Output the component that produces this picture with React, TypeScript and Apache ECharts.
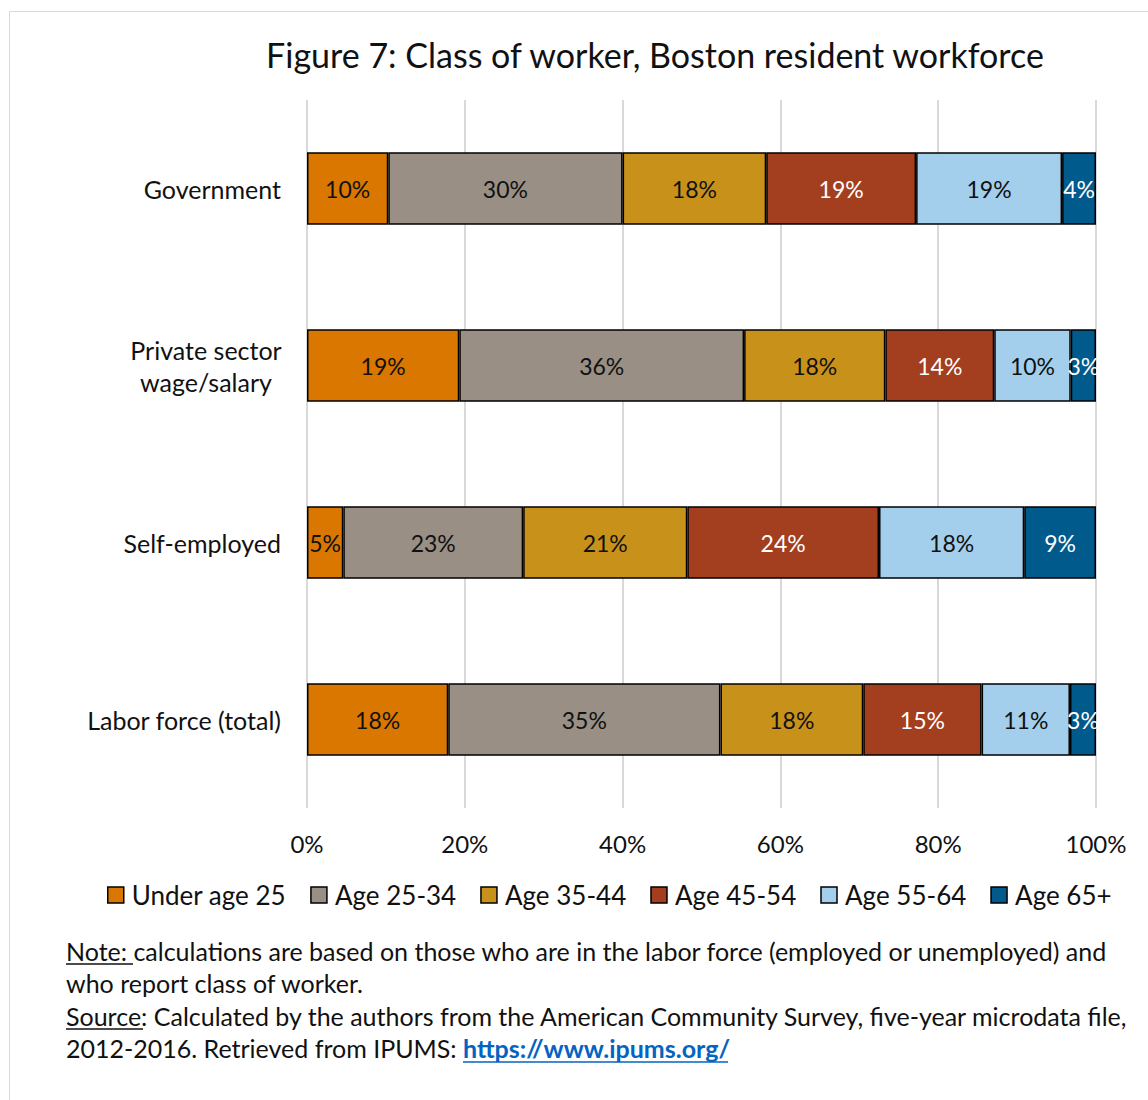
import React, { useEffect, useRef } from "react";
import * as echarts from "echarts";

const categories = ["Government", "Private sector\nwage/salary", "Self-employed", "Labor force (total)"];
const seriesNames = ["Under age 25", "Age 25-34", "Age 35-44", "Age 45-54", "Age 55-64", "Age 65+"];
const under25 = [10.3, 19.3, 4.6, 17.9];
const age2534 = [29.7, 36.1, 22.8, 34.5];
const age3544 = [18.2, 17.9, 20.8, 18.1];
const age4554 = [19.0, 13.8, 24.3, 15.0];
const age5564 = [18.5, 9.7, 18.4, 11.2];
const age65 = [4.3, 3.2, 9.1, 3.3];
const xTicks = [0, 20, 40, 60, 80, 100];
const colors = ["#D97700", "#998F85", "#C8921A", "#A33E1F", "#A3CFEC", "#005A8C"];
const labelColors = ["#111", "#111", "#111", "#fff", "#111", "#fff"];

const FONT = "Lato, 'Noto Sans', sans-serif";

export default function App() {
  const ref = useRef<HTMLDivElement>(null);
  useEffect(() => {
    if (!ref.current) return;
    const chart = echarts.init(ref.current, undefined, { renderer: "svg" });
    const values = [under25, age2534, age3544, age4554, age5564, age65];
    const revCats = [...categories].reverse();
    const series = seriesNames.map((name, i) => ({
      name,
      type: "bar",
      stack: "total",
      barCategoryGap: "59%",
      data: [...values[i]].reverse(),
      itemStyle: { color: colors[i], borderColor: "#000", borderWidth: 1.5 },
      label: {
        show: true,
        position: "inside",
        color: labelColors[i],
        fontFamily: FONT,
        fontSize: 23,
        formatter: (p: any) => Math.round(p.value) + "%",
      },
    }));
    const lineH = 32.5;
    const noteX = 66;
    const noteY = 938;
    const noteFont = "25px " + FONT;
    chart.setOption({
      animation: false,
      textStyle: { fontFamily: FONT },
      title: {
        text: "Figure 7: Class of worker, Boston resident workforce",
        left: 650,
        textAlign: "center",
        top: 32,
        textStyle: { fontFamily: FONT, fontSize: 34, fontWeight: "normal", color: "#111" },
      },
      grid: { left: 307, right: 52, top: 100, height: 708, containLabel: false },
      xAxis: {
        type: "value",
        min: 0,
        max: 100,
        interval: 20,
        axisLine: { show: false },
        axisTick: { show: false },
        splitLine: { lineStyle: { color: "#d9d9d9", width: 2 } },
        axisLabel: {
          margin: 23,
          fontFamily: FONT,
          fontSize: 24,
          color: "#111",
          formatter: (v: number) => (xTicks.includes(v) ? v + "%" : ""),
        },
      },
      yAxis: {
        type: "category",
        data: revCats,
        axisLine: { show: false },
        axisTick: { show: false },
        axisLabel: {
          margin: 26,
          fontFamily: FONT,
          fontSize: 25,
          color: "#111",
          lineHeight: 32,
          formatter: (v: string) =>
            v.includes("\n") ? v.split("\n").map((s) => "{c|" + s + "}").join("\n") : v,
          rich: {
            c: { width: 150, align: "center", fontFamily: FONT, fontSize: 25, color: "#111", lineHeight: 32 },
          },
        },
      },
      legend: {
        data: seriesNames,
        top: 877,
        left: 102,
        itemWidth: 16,
        itemHeight: 16,
        itemGap: 24,
        icon: "rect",
        textStyle: { fontFamily: FONT, fontSize: 26, color: "#111", padding: [0, 0, 0, 3] },
        itemStyle: { borderColor: "#000", borderWidth: 1.5 },
      },
      series,
      graphic: [
        {
          type: "rect",
          shape: { x: 9.5, y: 11.5, width: 1300, height: 1300 },
          style: { fill: "none", stroke: "#d9d9d9", lineWidth: 1 },
          silent: true,
        },
        {
          type: "text",
          x: noteX,
          y: noteY,
          style: {
            text: "Note: calculations are based on those who are in the labor force (employed or unemployed) and",
            font: noteFont,
            fill: "#111",
          },
        },
        {
          type: "text",
          x: noteX,
          y: noteY + lineH,
          style: { text: "who report class of worker.", font: noteFont, fill: "#111" },
        },
        {
          type: "text",
          x: noteX,
          y: noteY + lineH * 2,
          style: {
            text: "Source: Calculated by the authors from the American Community Survey, five-year microdata file,",
            font: noteFont,
            fill: "#111",
          },
        },
        {
          type: "text",
          x: noteX,
          y: noteY + lineH * 3,
          style: {
            text: "2012-2016. Retrieved from IPUMS: {l|https://www.ipums.org/}",
            font: noteFont,
            fill: "#111",
            rich: { l: { fontFamily: FONT, fontSize: 25, fontWeight: "bold", fill: "#0563C1", color: "#0563C1" } },
          } as any,
        },
        { type: "line", shape: { x1: 66, y1: 964, x2: 133, y2: 964 }, style: { stroke: "#111", lineWidth: 1.5 } },
        { type: "line", shape: { x1: 66, y1: 1029, x2: 143, y2: 1029 }, style: { stroke: "#111", lineWidth: 1.5 } },
        { type: "line", shape: { x1: 463, y1: 1062, x2: 728, y2: 1062 }, style: { stroke: "#0563C1", lineWidth: 1.5 } },
      ],
    });
    return () => chart.dispose();
  }, []);
  return (
    <div
      ref={ref}
      style={{ position: "absolute", left: 0, top: 0, width: 1148, height: 1100, background: "#fff" }}
    />
  );
}
